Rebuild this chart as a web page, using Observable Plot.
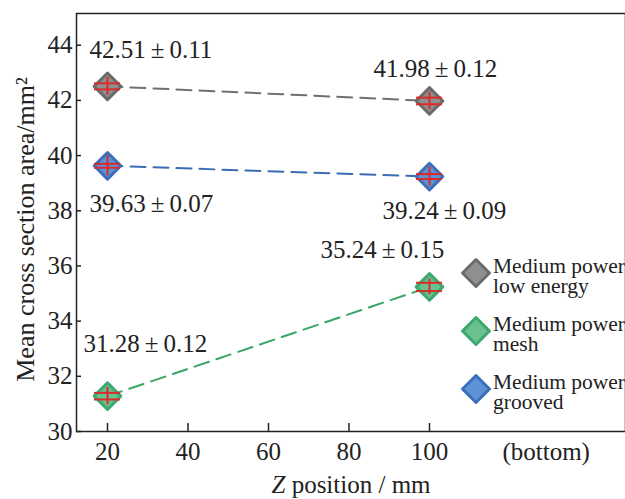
<!DOCTYPE html>
<html><head><meta charset="utf-8">
<script src="https://cdn.jsdelivr.net/npm/d3@7"></script>
<script src="https://cdn.jsdelivr.net/npm/@observablehq/plot@0.6"></script>
<style>
body{margin:0;background:#fff;}
#wrap{position:relative;width:625px;height:499px;overflow:hidden;font-family:"Liberation Serif","DejaVu Serif",serif;color:#222;}
.leg{position:absolute;left:460px;}
.leg svg{position:absolute;left:0;top:0;}
.leg .t{position:absolute;left:33px;top:-1px;font-size:21.5px;line-height:20px;white-space:nowrap;font-family:"Liberation Serif","DejaVu Serif",serif;}
</style></head><body><div id="wrap"></div>
<script>
// ---- data ----
const zPositions = [20, 100];
const seriesKeys = ["lowEnergy", "mesh", "grooved"];
const seriesNames = [["Medium power", "low energy"], ["Medium power", "mesh"], ["Medium power", "grooved"]];
const lowEnergyMean = [42.51, 41.98];
const lowEnergyErr = [0.11, 0.12];
const meshMean = [31.28, 35.24];
const meshErr = [0.12, 0.15];
const groovedMean = [39.63, 39.24];
const groovedErr = [0.07, 0.09];
const yTicks = [30, 32, 34, 36, 38, 40, 42, 44];
const xTicks = [20, 40, 60, 80, 100];
const xTickLabels = ["20", "40", "60", "80", "100"];
const bottomTickValue = 129;
const bottomTickLabel = "(bottom)";
const xTitle = "Z position / mm";
const yTitle = "Mean cross section area/mm²";

// ---- styles ----
const FONT = "'Liberation Serif', 'DejaVu Serif', serif";
const style = {
  lowEnergy: {fill: "#8f8f8f", stroke: "#6b6b6b", line: "#707070"},
  mesh: {fill: "#68c18f", stroke: "#3fa86e", line: "#3aa567"},
  grooved: {fill: "#5f92d4", stroke: "#3b6fba", line: "#3a6db3"}
};
const red = "#d82b2b";
// label offsets [dx, dy] in px per series per point
const labelOffsets = {
  lowEnergy: [[-18, -28], [-56, -24]],
  mesh: [[-24, -44], [-109, -29]],
  grooved: [[-18, 46], [-47, 42]]
};

const means = {lowEnergy: lowEnergyMean, mesh: meshMean, grooved: groovedMean};
const errs = {lowEnergy: lowEnergyErr, mesh: meshErr, grooved: groovedErr};
const points = seriesKeys.flatMap(k => zPositions.map((z, i) => ({key: k, i, z, v: means[k][i], e: errs[k][i]})));

const fmt = d => `${d.v.toFixed(2)}\u2009±\u2009${d.e.toFixed(2)}`;

const marks = [
  Plot.frame({stroke: "#222", strokeWidth: 1.5})
];
for (const k of seriesKeys) {
  const pts = points.filter(d => d.key === k);
  marks.push(Plot.line(pts, {x: "z", y: "v", stroke: style[k].line, strokeWidth: 2, strokeDasharray: "15,8"}));
}
for (const k of seriesKeys) {
  const pts = points.filter(d => d.key === k);
  marks.push(Plot.dot(pts, {x: "z", y: "v", symbol: "diamond2", r: 12, fill: style[k].fill, stroke: style[k].stroke, strokeWidth: 3, strokeLinejoin: "round"}));
}
marks.push(
  Plot.ruleX(points, {x: "z", y1: d => d.v - d.e, y2: d => d.v + d.e, insetTop: -12, insetBottom: -12, stroke: red, strokeWidth: 2}),
  Plot.ruleY(points, {y: d => d.v + d.e, x1: "z", x2: "z", insetLeft: -13, insetRight: -13, stroke: red, strokeWidth: 2}),
  Plot.ruleY(points, {y: d => d.v - d.e, x1: "z", x2: "z", insetLeft: -13, insetRight: -13, stroke: red, strokeWidth: 2})
);
for (const k of seriesKeys) {
  points.filter(d => d.key === k).forEach((d, i) => {
    marks.push(Plot.text([d], {x: "z", y: "v", text: fmt, textAnchor: "start", lineAnchor: "bottom",
      dx: labelOffsets[k][i][0], dy: labelOffsets[k][i][1], fontSize: 25, fontFamily: FONT, fill: "#222"}));
  });
}
marks.push(
  Plot.axisY({ticks: yTicks, tickSize: -5, tickPadding: 9, tickFormat: d => String(d), fontSize: 25, fontFamily: FONT, label: null, stroke: "#222", strokeWidth: 1.5}),
  Plot.axisX({ticks: xTicks, tickSize: -8, tickPadding: 19, tickFormat: (d, i) => xTickLabels[i], fontSize: 25, fontFamily: FONT, label: null, stroke: "#222", strokeWidth: 1.5}),
  Plot.axisX({ticks: [bottomTickValue], tickSize: 0, tickPadding: 11, tickFormat: () => bottomTickLabel, fontSize: 25, fontFamily: FONT, label: null}),
  Plot.text([xTitle], {frameAnchor: "bottom", text: d => d, dy: 61, lineAnchor: "bottom", textAnchor: "middle", fontSize: 25, fontFamily: FONT, fill: "#222"}),
  Plot.text([yTitle], {frameAnchor: "left", text: d => d, dx: -43, dy: 7, rotate: -90, lineAnchor: "bottom", textAnchor: "middle", fontSize: 26, fontFamily: FONT, fill: "#222"})
);

const chart = Plot.plot({
  width: 625, height: 499,
  marginLeft: 76, marginRight: 0, marginTop: 13, marginBottom: 68,
  x: {domain: [12.3, 148.7]},
  y: {domain: [30, 45.15]},
  style: {fontFamily: FONT, fontSize: "25px", background: "white", color: "#222"},
  marks
});

// italic Z in x title
d3.select(chart).selectAll("text").filter(function() { return this.textContent === xTitle; }).each(function() {
  const t = d3.select(this);
  t.text(null);
  t.append("tspan").attr("font-style", "italic").text("Z");
  t.append("tspan").text(xTitle.slice(1));
});

const wrap = document.getElementById("wrap");
wrap.appendChild(chart);

// legend
const legendCenters = [273, 331, 389];
seriesKeys.forEach((k, i) => {
  const div = document.createElement("div");
  div.className = "leg";
  div.style.top = (legendCenters[i] - 16) + "px";
  const s = style[k];
  div.innerHTML = `<svg width="32" height="32"><path d="M16,2.5L29.5,16L16,29.5L2.5,16Z" fill="${s.fill}" stroke="${s.stroke}" stroke-width="3" stroke-linejoin="round"/></svg><div class="t">${seriesNames[i][0]}<br>${seriesNames[i][1]}</div>`;
  wrap.appendChild(div);
});
</script></body></html>
